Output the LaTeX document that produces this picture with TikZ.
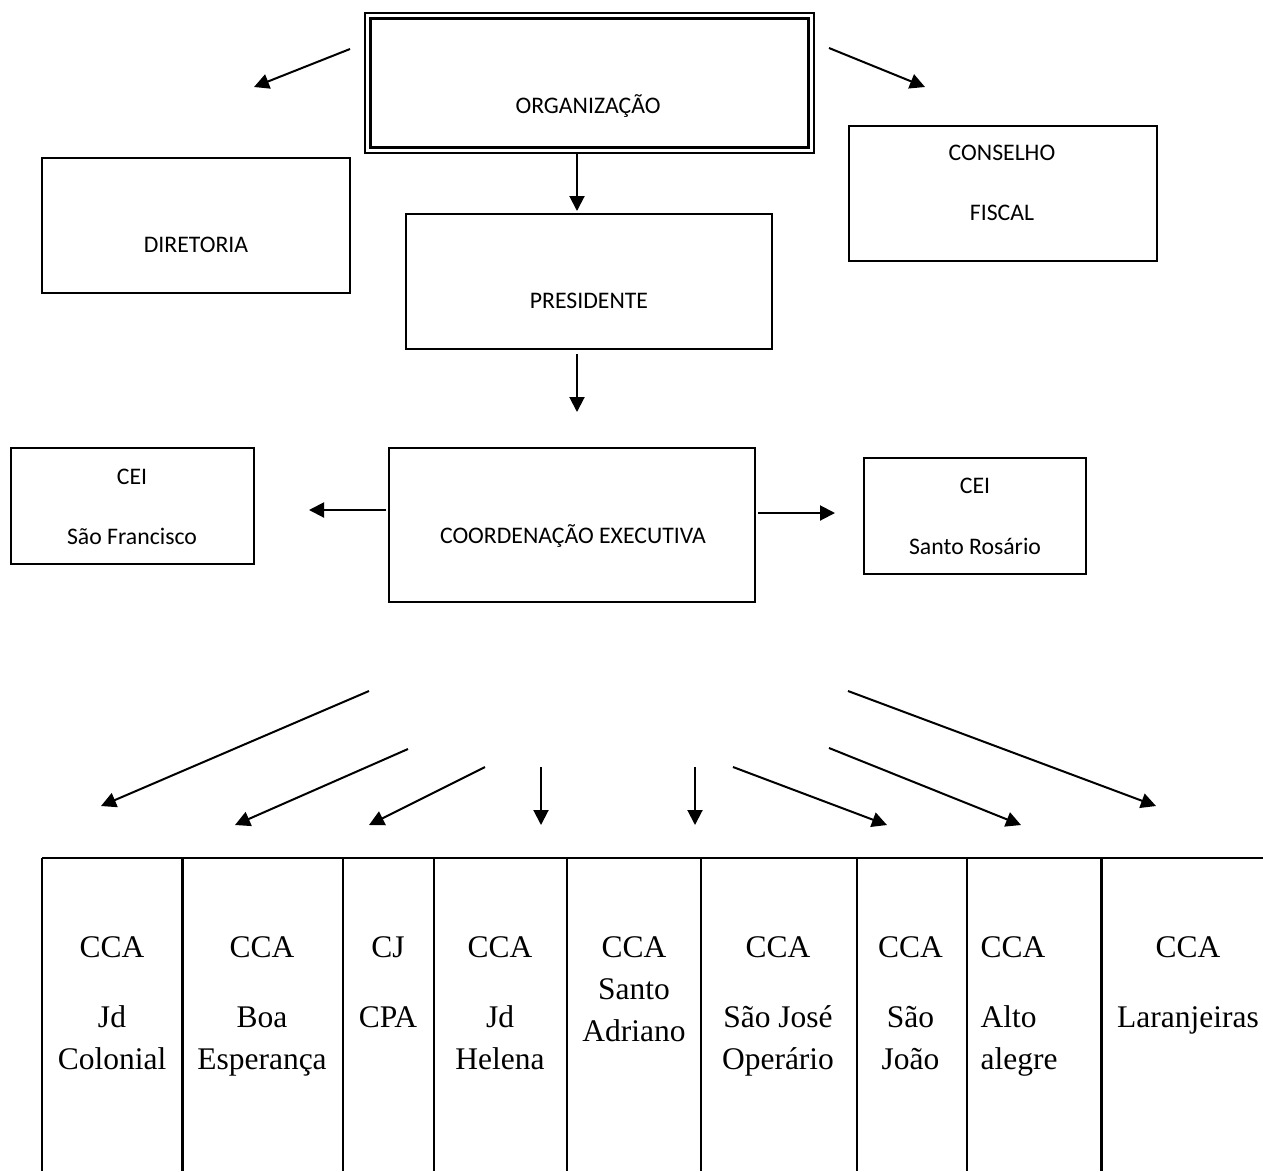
\documentclass[tikz,border=0pt]{standalone}
\usepackage{fontspec}
\setmainfont{Liberation Serif}
\newfontfamily\calfont{Carlito}
\usetikzlibrary{arrows.meta}
\tikzset{
  box/.style={draw, line width=1.6pt, inner sep=0pt, rectangle},
  lbl/.style={font=\calfont\fontsize{23.75}{28}\selectfont, inner sep=0pt, anchor=base},
  arr/.style={line width=2pt, -{Triangle[length=15pt,width=15pt]}},
  cell/.style={font=\fontsize{31.5}{42}\selectfont, align=center, anchor=north, inner sep=0pt},
  cellL/.style={font=\fontsize{31.5}{42}\selectfont, align=left, anchor=north west, inner sep=0pt},
  grid/.style={line width=2.2pt},
}
\begin{document}
\begin{tikzpicture}[x=1pt,y=-1pt]
\useasboundingbox (0,0) rectangle (1263,1171);

% boxes
\node[box, minimum width=308pt, minimum height=135pt] (dir) at (196,225.5) {};
\node[draw, line width=1.5pt, inner sep=0pt, minimum width=449pt, minimum height=140pt] (org) at (589.5,83) {};
\node[draw, line width=2.6pt, inner sep=0pt, minimum width=438pt, minimum height=129pt] (orgin) at (589.5,83) {};
\node[box, minimum width=308pt, minimum height=135pt] (cons) at (1003,193.5) {};
\node[box, minimum width=366pt, minimum height=135pt] (pres) at (589,281.5) {};
\node[box, minimum width=366pt, minimum height=154pt] (coord) at (572,525) {};
\node[box, minimum width=243pt, minimum height=116pt] (ceisf) at (132.5,506) {};
\node[box, minimum width=222pt, minimum height=116pt] (ceisr) at (975,516) {};

% labels
\node[lbl] (tdir) at (196,252.7) {DIRETORIA};
\node[lbl] (torg) at (588,113.7) {ORGANIZAÇÃO};
\node[lbl] (tcons1) at (1002,160.7) {CONSELHO};
\node[lbl] (tcons2) at (1002,220.7) {FISCAL};
\node[lbl] (tpres) at (589,308.7) {PRESIDENTE};
\node[lbl] (tcoord) at (573,543.7) {COORDENAÇÃO EXECUTIVA};
\node[lbl] (tsf1) at (132,484.7) {CEI};
\node[lbl] (tsf2) at (132,544.7) {São Francisco};
\node[lbl] (tsr1) at (975,493.7) {CEI};
\node[lbl] (tsr2) at (975,554.7) {Santo Rosário};

% arrow coordinates
\coordinate (a1s) at (350,49);  \coordinate (a1e) at (254,87);
\coordinate (a2s) at (829,48);  \coordinate (a2e) at (925,87);
\coordinate (a4s) at (577,354); \coordinate (a4e) at (577,412);
\coordinate (a5s) at (386,510); \coordinate (a5e) at (309,510);
\coordinate (a6s) at (758,513); \coordinate (a6e) at (835,513);
\coordinate (b1s) at (369,691); \coordinate (b1e) at (101,806);
\coordinate (b2s) at (408,749); \coordinate (b2e) at (235,825);
\coordinate (b3s) at (485,767); \coordinate (b3e) at (369,825);
\coordinate (b4s) at (541,767); \coordinate (b4e) at (541,825);
\coordinate (b5s) at (695,767); \coordinate (b5e) at (695,825);
\coordinate (b6s) at (733,767); \coordinate (b6e) at (887,825);
\coordinate (b7s) at (829,748); \coordinate (b7e) at (1021,825);
\coordinate (b8s) at (848,691); \coordinate (b8e) at (1156,806);
\coordinate (a3s) at (577,153); \coordinate (a3e) at (577,211);

\draw[arr] (a1s) -- (a1e);
\draw[arr] (a2s) -- (a2e);
\draw[arr] (a3s) -- (a3e);
\draw[arr] (a4s) -- (a4e);
\draw[arr] (a5s) -- (a5e);
\draw[arr] (a6s) -- (a6e);
\foreach \i in {1,...,8} { \draw[arr] (b\i s) -- (b\i e); }

% table
\draw[grid] (42,858) -- (1263,858);
\foreach \x in {42,182.5,343,434,567,701,857,967,1101.5} { \draw[grid] (\x,858) -- (\x,1171); }

\node[cell] (c1) at (112,936.6) {CCA\\[28pt]Jd\\Colonial};
\node[cell] (c2) at (262,936.6) {CCA\\[28pt]Boa\\Esperança};
\node[cell] (c3) at (388,936.6) {CJ\\[28pt]CPA};
\node[cell] (c4) at (500,936.6) {CCA\\[28pt]Jd\\Helena};
\node[cell] (c5) at (634,936.6) {CCA\\Santo\\Adriano};
\node[cell] (c6) at (778,936.6) {CCA\\[28pt]São José\\Operário};
\node[cell] (c7) at (910.5,936.6) {CCA\\[28pt]São\\João};
\node[cellL] (c8) at (980.5,936.6) {CCA\\[28pt]Alto\\alegre};
\node[cell] (c9) at (1188,936.6) {CCA\\[28pt]Laranjeiras};
\end{tikzpicture}
\end{document}
